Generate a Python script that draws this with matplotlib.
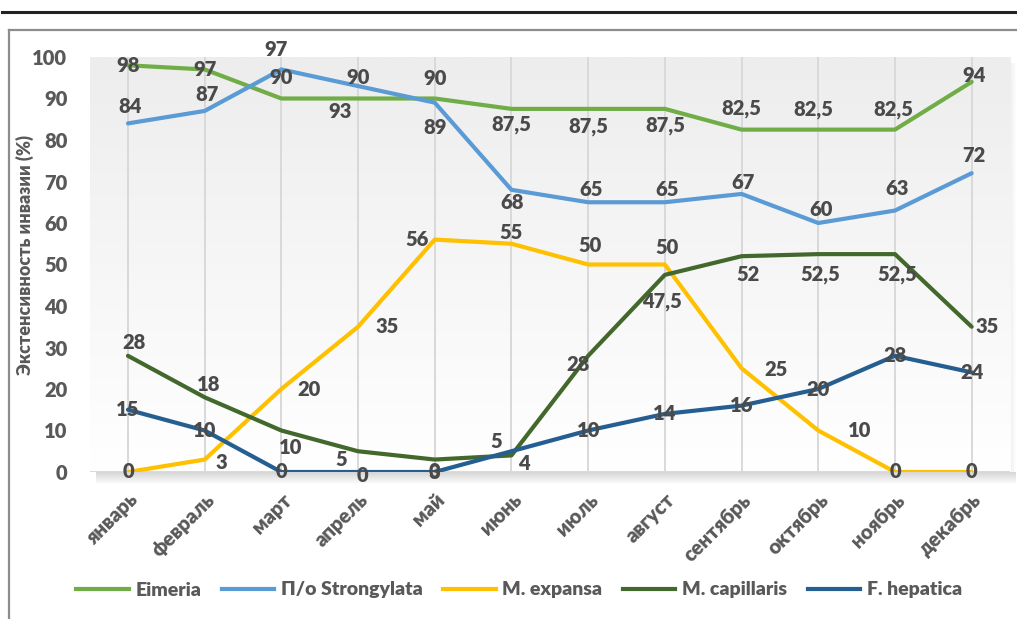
import numpy as np
import matplotlib
matplotlib.use("Agg")
import matplotlib.pyplot as plt
from matplotlib.colors import LinearSegmentedColormap
from matplotlib.patches import Rectangle
from matplotlib.lines import Line2D

plt.rcParams['font.family'] = ['Lato', 'Open Sans', 'DejaVu Sans']
WEIGHT = 'heavy'

# --- data ---
months = ["январь", "февраль", "март", "апрель", "май", "июнь",
          "июль", "август", "сентябрь", "октябрь", "ноябрь", "декабрь"]
eimeria = [98, 97, 90, 90, 90, 87.5, 87.5, 87.5, 82.5, 82.5, 82.5, 94]
strongylata = [84, 87, 97, 93, 89, 68, 65, 65, 67, 60, 63, 72]
m_expansa = [0, 3, 20, 35, 56, 55, 50, 50, 25, 10, 0, 0]
m_capillaris = [28, 18, 10, 5, 3, 4, 28, 47.5, 52, 52.5, 52.5, 35]
f_hepatica = [15, 10, 0, 0, 0, 5, 10, 14, 16, 20, 28, 24]
series_names = ["Eimeria", "П/о Strongylata", "M. expansa", "M. capillaris", "F. hepatica"]
y_label = "Экстенсивность инвазии (%)"

colors = ["#70AD47", "#5B9BD5", "#FFC000", "#43682B", "#255E91"]

# label offsets in pixels (dx right, dy down) for each series
label_offsets = [
    [(0, 0), (0, 0), (0, -21), (0, -21), (0, -20), (0, 16), (0, 18), (0, 17),
     (0, -21), (-5, -20), (-2, -20), (2, -6)],
    [(2, -17), (2, -16), (-5, -20), (-18, 25), (0, 25), (1, 13), (3, -13), (2, -13),
     (2, -11), (3, -14), (2, -22), (2, -18)],
    [(0, 0), (17, 3), (28, 1), (29, 0), (-18, 0), (0, -11), (2, -19), (2, -17),
     (34, 1), (41, 0), (0, 0), (0, 0)],
    [(6, -13), (4, -13), (9, 17), (-17, 8), (0, 13), (12, 8), (-10, 9), (-3, 27),
     (6, 18), (2, 20), (2, 20), (15, 0)],
    [(0, 0), (0, 0), (0, 0), (4, 4), (0, 0), (-15, -10), (0, 0), (0, 0),
     (0, 0), (0, 0), (0, 0), (0, 0)],
]

W, H = 1017, 619
fig = plt.figure(figsize=(W / 100, H / 100), dpi=100)
fig.patch.set_facecolor("white")

# outer decorations
fig.add_artist(Line2D([2 / W, 1.0], [1 - 12 / H, 1 - 12 / H], color="#222222", lw=2.2,
                      transform=fig.transFigure))
fig.add_artist(Line2D([9 / W, 1.0], [1 - 30 / H, 1 - 30 / H], color="#8C8C8C", lw=1.6,
                      transform=fig.transFigure))
fig.add_artist(Line2D([9 / W, 9 / W], [0, 1 - 30 / H], color="#8C8C8C", lw=1.6,
                      transform=fig.transFigure))

ax_left, ax_right, ax_top, ax_bottom = 89.6, 1010, 57, 472
ax = fig.add_axes([ax_left / W, 1 - ax_bottom / H, (ax_right - ax_left) / W,
                   (ax_bottom - ax_top) / H])

# soft shadow below and right of plot area
for k in range(12):
    a = 0.16 * (1 - k / 12)
    fig.add_artist(Rectangle(((ax_left + 6) / W, 1 - (ax_bottom + k + 1) / H),
                             (ax_right - ax_left) / W, 1 / H, transform=fig.transFigure,
                             facecolor="#000000", alpha=a, edgecolor="none", zorder=0))
for k in range(6):
    a = 0.06 * (1 - k / 6)
    fig.add_artist(Rectangle(((ax_right + k) / W, 1 - ax_bottom / H),
                             1 / W, (ax_bottom - ax_top - 6) / H, transform=fig.transFigure,
                             facecolor="#000000", alpha=a, edgecolor="none", zorder=0))

x = np.arange(len(months))
ax.set_xlim(-0.5, len(months) - 0.5)
ax.set_ylim(0, 100)

# gradient background
cmap = LinearSegmentedColormap.from_list("bg", ["#FFFFFF", "#EDEDED"])
grad = np.linspace(0, 1, 256).reshape(-1, 1)
ax.imshow(grad, extent=[-0.5, len(months) - 0.5, 100, 0], aspect="auto", cmap=cmap,
          zorder=0, origin="upper")

for xi in x:
    ax.axvline(xi, color="#D9D9D9", lw=1.4, zorder=1)
ax.axhline(0, color="#D9D9D9", lw=1.4, zorder=1)

for sp in ax.spines.values():
    sp.set_visible(False)

all_series = [eimeria, strongylata, m_expansa, m_capillaris, f_hepatica]
for vals, name, c in zip(all_series, series_names, colors):
    ax.plot(x, vals, color=c, lw=3, label=name, zorder=3, solid_capstyle="round",
            solid_joinstyle="round")

def fmt(v):
    return (f"{v:g}").replace(".", ",")

for vals, offs in zip(all_series, label_offsets):
    for xi, v, (dx, dy) in zip(x, vals, offs):
        ax.annotate(fmt(v), (xi, v), xytext=(dx * 0.72, -dy * 0.72),
                    textcoords="offset points", ha="center", va="center",
                    fontsize=14.5, fontweight=WEIGHT, color="#4A4A4A", zorder=5)

ax.set_yticks(np.arange(0, 101, 10))
ax.tick_params(axis="y", length=0, pad=16, labelsize=14.5, labelcolor="#595959")
ax.set_xticks(x)
ax.set_xticklabels(months, rotation=45, ha="right", rotation_mode="anchor")
ax.tick_params(axis="x", length=0, pad=13, labelsize=14.5, labelcolor="#595959")
for t in ax.get_xticklabels() + ax.get_yticklabels():
    t.set_fontweight(WEIGHT)

fig.text(25 / W, 1 - 255 / H, y_label, rotation=90, ha="center", va="center",
         fontsize=13, fontweight=WEIGHT, color="#595959")

handles = [Line2D([], [], color=c, lw=3) for c in colors]
fig.legend(handles, series_names, loc="center", bbox_to_anchor=(519 / W, 1 - 590 / H),
           ncol=5, frameon=False, handlelength=2.7, handletextpad=0.35,
           columnspacing=1.05, labelcolor="#595959", prop={"weight": WEIGHT, "size": 14})

fig.savefig("out.png", dpi=100, facecolor="white")
